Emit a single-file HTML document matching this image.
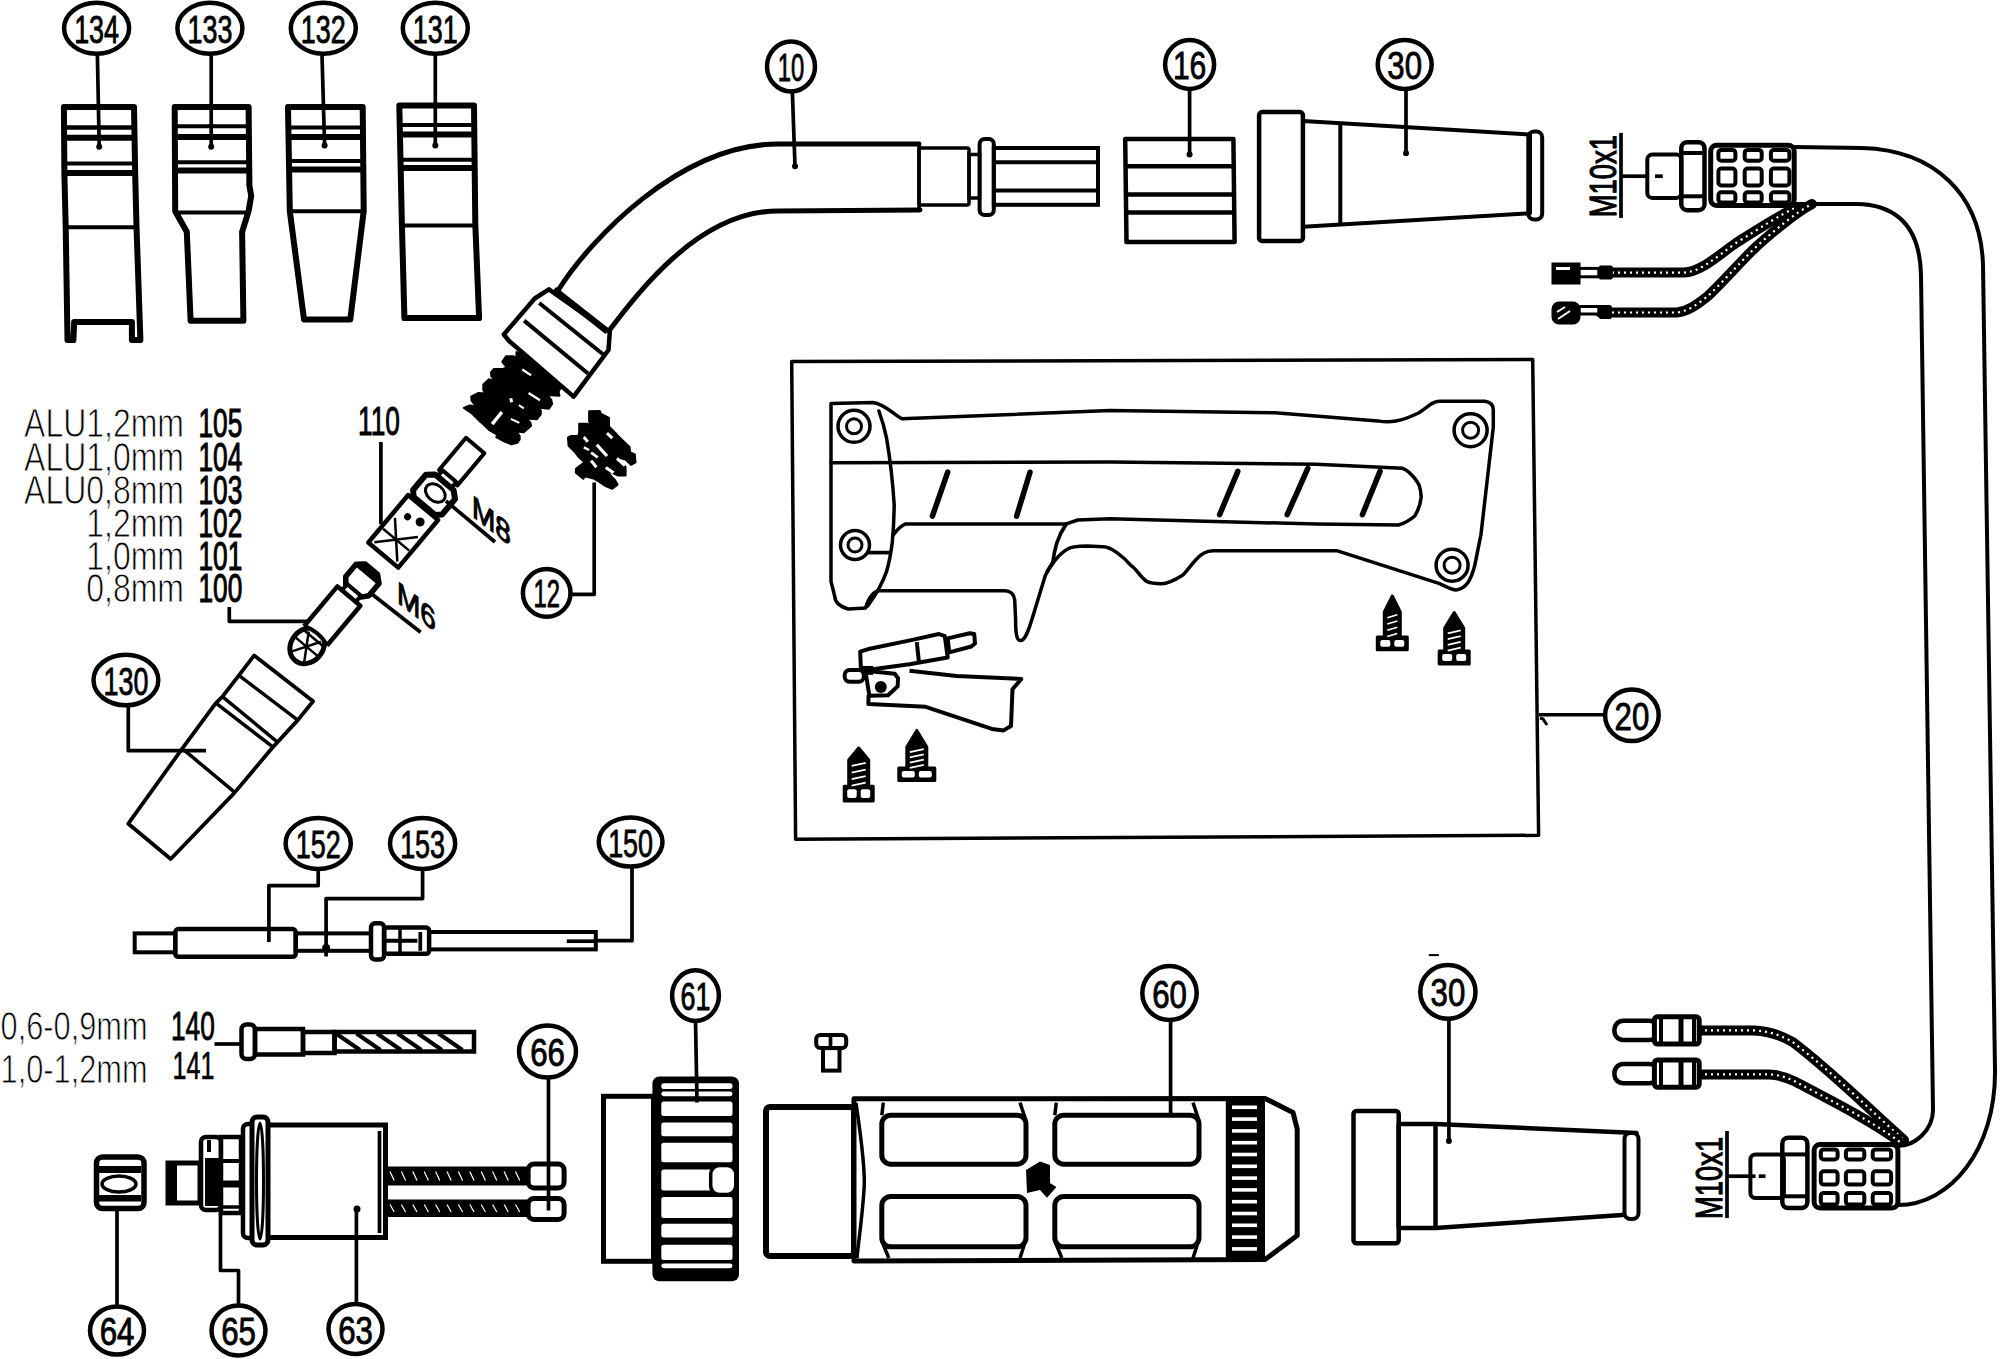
<!DOCTYPE html>
<html><head><meta charset="utf-8"><style>
html,body{margin:0;padding:0;background:#fff;}
svg{display:block;}
text{font-family:"Liberation Sans",sans-serif;fill:#000;}
</style></head><body>
<svg width="2000" height="1359" viewBox="0 0 2000 1359">
<rect width="2000" height="1359" fill="#fff"/>
<polygon points="63.9,106.9 134.0,106.9 135.2,175.2 136.5,226.7 140.4,340.0 131.9,340.0 131.9,322.0 74.2,322.0 73.4,340.0 67.5,340.0 65.7,226.7 64.4,175.2" fill="none" stroke="#000" stroke-width="6" stroke-linejoin="round" />
<polyline points="63.9,127.5 134.0,127.5" fill="none" stroke="#000" stroke-width="4.5" stroke-linejoin="round" />
<polyline points="64.4,137.8 134.5,137.8" fill="none" stroke="#000" stroke-width="6" stroke-linejoin="round" />
<polyline points="64.4,163.6 135.2,163.6" fill="none" stroke="#000" stroke-width="4" stroke-linejoin="round" />
<polyline points="64.4,173.1 135.2,173.1" fill="none" stroke="#000" stroke-width="6" stroke-linejoin="round" />
<polyline points="65.7,227.2 136.5,227.2" fill="none" stroke="#000" stroke-width="4" stroke-linejoin="round" />
<polygon points="174.7,106.9 248.6,106.9 249.4,185.5 251.2,195.8 248.6,211.2 242.1,231.8 243.4,320.7 190.6,320.7 186.8,231.8 175.2,211.2 174.7,106.9" fill="none" stroke="#000" stroke-width="6" stroke-linejoin="round" />
<polyline points="173.9,126.2 248.6,126.2" fill="none" stroke="#000" stroke-width="4" stroke-linejoin="round" />
<polyline points="173.9,137.0 248.8,137.0" fill="none" stroke="#000" stroke-width="6" stroke-linejoin="round" />
<polyline points="174.4,162.3 249.1,162.3" fill="none" stroke="#000" stroke-width="4" stroke-linejoin="round" />
<polyline points="174.4,170.5 249.4,170.5" fill="none" stroke="#000" stroke-width="6" stroke-linejoin="round" />
<polyline points="175.2,212.5 248.6,212.5" fill="none" stroke="#000" stroke-width="4" stroke-linejoin="round" />
<polygon points="288.0,106.9 362.7,106.9 363.7,211.2 350.3,319.4 304.0,319.4 289.8,211.2" fill="none" stroke="#000" stroke-width="6" stroke-linejoin="round" />
<polyline points="288.5,127.5 362.7,127.5" fill="none" stroke="#000" stroke-width="4" stroke-linejoin="round" />
<polyline points="288.5,137.0 362.7,137.0" fill="none" stroke="#000" stroke-width="6" stroke-linejoin="round" />
<polyline points="289.0,161.0 363.2,161.0" fill="none" stroke="#000" stroke-width="4" stroke-linejoin="round" />
<polyline points="289.0,169.5 363.2,169.5" fill="none" stroke="#000" stroke-width="6" stroke-linejoin="round" />
<polyline points="289.8,211.2 363.7,211.2" fill="none" stroke="#000" stroke-width="4" stroke-linejoin="round" />
<polygon points="399.3,105.6 474.0,105.6 475.3,224.1 479.1,318.1 404.4,318.1 401.9,224.1" fill="none" stroke="#000" stroke-width="6" stroke-linejoin="round" />
<polyline points="399.8,124.9 474.0,124.9" fill="none" stroke="#000" stroke-width="4" stroke-linejoin="round" />
<polyline points="399.8,134.5 474.0,134.5" fill="none" stroke="#000" stroke-width="6" stroke-linejoin="round" />
<polyline points="400.6,159.7 474.5,159.7" fill="none" stroke="#000" stroke-width="4" stroke-linejoin="round" />
<polyline points="400.6,168.0 474.5,168.0" fill="none" stroke="#000" stroke-width="6" stroke-linejoin="round" />
<polyline points="401.9,225.4 475.3,225.4" fill="none" stroke="#000" stroke-width="4" stroke-linejoin="round" />
<polyline points="97.4,55.4 99.2,146.8" fill="none" stroke="#000" stroke-width="3.7" stroke-linejoin="round" />
<circle cx="99.2" cy="146.8" r="3"/>
<polyline points="211.2,55.4 211.2,146.8" fill="none" stroke="#000" stroke-width="3.7" stroke-linejoin="round" />
<circle cx="211.2" cy="146.8" r="3"/>
<polyline points="322.0,55.4 324.6,145.5" fill="none" stroke="#000" stroke-width="3.7" stroke-linejoin="round" />
<circle cx="324.6" cy="145.5" r="3"/>
<polyline points="435.3,54.1 435.3,145.5" fill="none" stroke="#000" stroke-width="3.7" stroke-linejoin="round" />
<circle cx="435.3" cy="145.5" r="3"/>
<ellipse cx="96.6" cy="28.3" rx="32.5" ry="25.5" fill="#fff" stroke="#000" stroke-width="4.5"/>
<text transform="translate(96.6,42.8) scale(0.69,1)" font-size="39" text-anchor="middle" stroke="#000" stroke-width="0.9">134</text>
<ellipse cx="209.9" cy="28.3" rx="32.5" ry="25.5" fill="#fff" stroke="#000" stroke-width="4.5"/>
<text transform="translate(209.9,42.8) scale(0.69,1)" font-size="39" text-anchor="middle" stroke="#000" stroke-width="0.9">133</text>
<ellipse cx="323.3" cy="28.3" rx="32.5" ry="25.5" fill="#fff" stroke="#000" stroke-width="4.5"/>
<text transform="translate(323.3,42.8) scale(0.69,1)" font-size="39" text-anchor="middle" stroke="#000" stroke-width="0.9">132</text>
<ellipse cx="435.3" cy="28.3" rx="32.5" ry="25.5" fill="#fff" stroke="#000" stroke-width="4.5"/>
<text transform="translate(435.3,42.8) scale(0.69,1)" font-size="39" text-anchor="middle" stroke="#000" stroke-width="0.9">131</text>
<path d="M 559.0,289.0 C 590.0,240.0 680.0,144.0 778.0,144.0 L 919.0,144.0" fill="none" stroke="#000" stroke-width="5" stroke-linejoin="round" stroke-linecap="round"/>
<path d="M 608.0,332.0 C 640.0,290.0 700.0,211.0 778.0,211.0 L 920.0,210.0" fill="none" stroke="#000" stroke-width="5" stroke-linejoin="round" stroke-linecap="round"/>
<polyline points="919.0,144.0 919.0,210.0" fill="none" stroke="#000" stroke-width="3.5" stroke-linejoin="round" />
<rect x="919.0" y="148.0" width="50.0" height="57.0" rx="2" fill="none" stroke="#000" stroke-width="3.5"/>
<rect x="969.0" y="154.5" width="10.6" height="43.5" rx="0" fill="none" stroke="#000" stroke-width="3.5"/>
<rect x="979.6" y="139.0" width="14.2" height="76.0" rx="5" fill="none" stroke="#000" stroke-width="4"/>
<rect x="993.8" y="148.0" width="104.2" height="56.8" rx="0" fill="none" stroke="#000" stroke-width="4"/>
<polyline points="994.0,162.3 1098.0,162.3" fill="none" stroke="#000" stroke-width="4" stroke-linejoin="round" />
<polyline points="994.0,190.6 1098.0,190.6" fill="none" stroke="#000" stroke-width="4" stroke-linejoin="round" />
<polyline points="792.4,92.7 795.0,166.2" fill="none" stroke="#000" stroke-width="3.7" stroke-linejoin="round" />
<circle cx="795.0" cy="166.2" r="3"/>
<ellipse cx="791.0" cy="66.5" rx="24.0" ry="25.0" fill="#fff" stroke="#000" stroke-width="4.5"/>
<text transform="translate(791.0,81.0) scale(0.61,1)" font-size="39" text-anchor="middle" stroke="#000" stroke-width="0.9">10</text>
<polygon points="1125.2,139.1 1233.4,139.1 1234.6,242.1 1126.5,242.1" fill="none" stroke="#000" stroke-width="4.5" stroke-linejoin="round" />
<polyline points="1125.7,166.2 1233.4,166.2" fill="none" stroke="#000" stroke-width="4.5" stroke-linejoin="round" />
<polyline points="1125.7,194.5 1233.4,194.5" fill="none" stroke="#000" stroke-width="4.5" stroke-linejoin="round" />
<polyline points="1125.7,212.5 1233.9,212.5" fill="none" stroke="#000" stroke-width="4.5" stroke-linejoin="round" />
<polyline points="1189.6,88.9 1189.6,154.6" fill="none" stroke="#000" stroke-width="3.7" stroke-linejoin="round" />
<circle cx="1189.6" cy="154.6" r="3"/>
<ellipse cx="1189.6" cy="64.4" rx="24.5" ry="24.5" fill="#fff" stroke="#000" stroke-width="4.5"/>
<text transform="translate(1189.6,78.9) scale(0.77,1)" font-size="39" text-anchor="middle" stroke="#000" stroke-width="0.9">16</text>
<rect x="1259.1" y="112.1" width="43.8" height="128.8" rx="3" fill="none" stroke="#000" stroke-width="4.5"/>
<polygon points="1303.0,121.0 1530.0,134.5 1530.0,213.3 1303.0,226.7" fill="none" stroke="#000" stroke-width="4" stroke-linejoin="round" />
<polyline points="1340.3,122.0 1340.3,226.0" fill="none" stroke="#000" stroke-width="4" stroke-linejoin="round" />
<rect x="1528.3" y="131.4" width="13.9" height="88.1" rx="6" fill="none" stroke="#000" stroke-width="4"/>
<polyline points="1406.0,88.9 1406.0,153.3" fill="none" stroke="#000" stroke-width="3.7" stroke-linejoin="round" />
<circle cx="1406.0" cy="153.3" r="3"/>
<ellipse cx="1404.7" cy="64.4" rx="27.0" ry="24.5" fill="#fff" stroke="#000" stroke-width="4.5"/>
<text transform="translate(1404.7,78.9) scale(0.8,1)" font-size="39" text-anchor="middle" stroke="#000" stroke-width="0.9">30</text>
<text transform="translate(1616.1,176.2) rotate(-90) scale(0.74,1)" font-size="37" text-anchor="middle" stroke="#000" stroke-width="1.2">M10x1</text>
<polyline points="1621.0,132.9 1621.0,217.9" fill="none" stroke="#000" stroke-width="3.7" stroke-linejoin="round" />
<polyline points="1621.0,176.2 1647.3,176.2" fill="none" stroke="#000" stroke-width="3.7" stroke-linejoin="round" />
<rect x="1647.3" y="154.6" width="34.0" height="43.3" rx="5" fill="none" stroke="#000" stroke-width="4"/>
<polyline points="1655.0,176.2 1662.8,176.2" fill="none" stroke="#000" stroke-width="3.7" stroke-linejoin="round" />
<rect x="1681.3" y="142.2" width="23.2" height="68.0" rx="6" fill="none" stroke="#000" stroke-width="4.5"/>
<polyline points="1681.9,153.0 1703.9,153.0" fill="none" stroke="#000" stroke-width="4" stroke-linejoin="round" />
<polyline points="1681.9,196.3 1703.9,196.3" fill="none" stroke="#000" stroke-width="4" stroke-linejoin="round" />
<rect x="1710.7" y="145.3" width="83.5" height="60.3" rx="6" fill="none" stroke="#000" stroke-width="5"/>
<rect x="1718.4" y="149.9" width="17.0" height="10.8" rx="3" fill="none" stroke="#000" stroke-width="4"/>
<rect x="1718.4" y="168.5" width="17.0" height="17.0" rx="3" fill="none" stroke="#000" stroke-width="4"/>
<rect x="1718.4" y="192.3" width="17.0" height="10.2" rx="3" fill="none" stroke="#000" stroke-width="4"/>
<rect x="1744.7" y="149.9" width="17.0" height="10.8" rx="3" fill="none" stroke="#000" stroke-width="4"/>
<rect x="1744.7" y="168.5" width="17.0" height="17.0" rx="3" fill="none" stroke="#000" stroke-width="4"/>
<rect x="1744.7" y="192.3" width="17.0" height="10.2" rx="3" fill="none" stroke="#000" stroke-width="4"/>
<rect x="1770.9" y="149.9" width="18.5" height="10.8" rx="3" fill="none" stroke="#000" stroke-width="4"/>
<rect x="1770.9" y="168.5" width="18.5" height="17.0" rx="3" fill="none" stroke="#000" stroke-width="4"/>
<rect x="1770.9" y="192.3" width="18.5" height="10.2" rx="3" fill="none" stroke="#000" stroke-width="4"/>
<path d="M 1794.0,147.0 L 1862.0,148.0 C 1935.0,150.0 1981.0,195.0 1983.0,265.0 L 1995.0,1070.0 C 1996.0,1150.0 1950.0,1205.0 1898.0,1205.0" fill="none" stroke="#000" stroke-width="4" stroke-linejoin="round" stroke-linecap="round"/>
<path d="M 1794.0,204.0 L 1857.0,204.0 C 1900.0,205.0 1920.0,230.0 1921.0,275.0 L 1933.0,1110.0 C 1933.0,1130.0 1915.0,1146.0 1898.0,1146.0" fill="none" stroke="#000" stroke-width="4" stroke-linejoin="round" stroke-linecap="round"/>
<path d="M 1600.0,272.6 L 1684.0,272.6 C 1700.0,272.0 1715.0,258.0 1736.0,243.0 C 1760.0,228.0 1780.0,215.0 1795.0,208.0" fill="none" stroke="#000" stroke-width="10" stroke-linejoin="round" stroke-linecap="round"/>
<path d="M 1600 272.6 L 1684 272.6 C 1700 272 1715 258 1736 243 C 1760 228 1780 215 1795 208" fill="none" stroke="#fff" stroke-width="2.2" stroke-dasharray="2 4"/>
<path d="M 1600.0,312.5 L 1677.0,312.5 C 1690.0,311.0 1700.0,302.0 1708.0,296.0 C 1725.0,280.0 1740.0,262.0 1757.0,246.0 C 1775.0,230.0 1795.0,213.0 1812.0,204.0" fill="none" stroke="#000" stroke-width="10" stroke-linejoin="round" stroke-linecap="round"/>
<path d="M 1600 312.5 L 1677 312.5 C 1690 311 1700 302 1708 296 C 1725 280 1740 262 1757 246 C 1775 230 1795 213 1812 204" fill="none" stroke="#fff" stroke-width="2.2" stroke-dasharray="2 4"/>
<rect x="1553" y="264" width="26" height="19" fill="#000" stroke="#000" stroke-width="3"/>
<rect x="1556" y="267" width="14" height="3" fill="#fff"/>
<rect x="1579.2" y="268.4" width="19.6" height="8.4" fill="#fff" stroke="#000" stroke-width="3"/>
<rect x="1598.8" y="265.6" width="14" height="14" rx="2" fill="#000"/>
<rect x="1553" y="303" width="26" height="20" rx="6" fill="#000" stroke="#000" stroke-width="3"/>
<path d="M 1557 312 L 1565 307 M 1558 319 L 1570 311" stroke="#fff" stroke-width="2"/>
<rect x="1579.2" y="306.5" width="19.6" height="7.5" fill="#fff" stroke="#000" stroke-width="3"/>
<rect x="1598.8" y="305" width="13" height="14" rx="2" fill="#000"/>
<polygon points="791.7,361.5 1532.7,359.5 1538.6,835.3 795.6,839.2" fill="none" stroke="#000" stroke-width="3.5" stroke-linejoin="round" />
<polyline points="1539.0,714.8 1605.0,714.8" fill="none" stroke="#000" stroke-width="3.4" stroke-linejoin="round" />
<path d="M 1540 718 L 1543 719 L 1547 725" fill="none" stroke="#000" stroke-width="3"/>
<ellipse cx="1631.9" cy="715.3" rx="26.8" ry="25.8" fill="#fff" stroke="#000" stroke-width="4.5"/>
<text transform="translate(1631.9,729.8) scale(0.8,1)" font-size="39" text-anchor="middle" stroke="#000" stroke-width="0.9">20</text>
<path d="M 831.0,403.4 L 873.0,402.4 C 885.0,404.0 893.0,414.0 901.8,418.7 L 1110.0,410.6 L 1274.9,412.7 L 1377.9,420.9 C 1390.0,423.0 1400.0,422.0 1419.0,412.7 C 1428.0,407.0 1432.0,401.3 1439.7,401.3 L 1485.0,401.3 C 1490.0,402.0 1493.3,405.0 1493.3,410.0 L 1493.3,427.1 L 1481.0,534.3 L 1474.8,565.2 C 1471.0,580.0 1466.0,589.0 1456.2,589.9 C 1452.0,590.0 1447.0,587.0 1439.7,583.7 L 1336.7,550.7 L 1213.0,550.7 C 1205.0,551.0 1200.0,555.0 1196.6,559.0 C 1190.0,566.0 1185.0,574.0 1182.1,575.5 C 1175.0,580.0 1168.0,583.7 1161.5,583.7 C 1155.0,583.7 1150.0,583.0 1147.1,581.7 C 1140.0,577.0 1136.0,568.0 1130.6,565.2 C 1124.0,557.0 1110.0,546.0 1102.7,546.8 L 1087.4,545.9 C 1080.0,546.0 1070.0,547.0 1068.2,548.8 C 1060.0,553.0 1050.0,565.0 1045.3,575.5 L 1031.9,619.5 C 1028.0,632.0 1025.0,640.6 1020.4,640.6 C 1016.0,640.6 1015.6,630.0 1015.6,619.5 L 1014.7,600.0 C 1014.0,594.0 1010.0,590.8 1005.1,590.8 L 878.9,590.8 C 872.0,592.0 868.0,600.0 865.5,608.0 L 848.3,609.0 C 840.0,607.0 834.9,602.0 834.9,597.0 L 831.0,581.3 Z" fill="none" stroke="#000" stroke-width="3.5" stroke-linejoin="round" stroke-linecap="round"/>
<path d="M 878.9,411.0 C 884.0,425.0 886.5,437.8 886.5,437.8 C 892.0,470.0 894.2,504.8 894.2,504.8 C 894.0,525.0 892.2,543.0 892.2,543.0 C 890.0,560.0 886.5,571.7 886.5,571.7 C 880.0,590.0 872.0,600.0 867.4,606.1" fill="none" stroke="#000" stroke-width="3.5" stroke-linejoin="round" stroke-linecap="round"/>
<path d="M 831.0,462.7 L 1110.0,462.1 L 1316.0,464.2 L 1402.6,468.3 C 1412.0,472.0 1419.0,484.8 1419.0,484.8 C 1421.0,490.0 1421.2,497.2 1421.2,497.2 C 1420.0,507.0 1415.0,515.7 1415.0,515.7 C 1408.0,522.0 1398.5,525.0 1398.5,525.0 L 1316.0,524.0 L 1110.0,518.8 L 1077.8,520.0 L 1066.3,523.9 L 905.6,523.9 C 900.0,526.0 896.0,531.5 893.0,535.0" fill="none" stroke="#000" stroke-width="3.5" stroke-linejoin="round" stroke-linecap="round"/>
<path d="M 1066.3,523.9 C 1060.0,533.0 1056.8,543.0 1056.8,543.0 C 1054.0,552.0 1052.9,562.2 1052.9,562.2 L 1047.2,571.7" fill="none" stroke="#000" stroke-width="3.7" stroke-linejoin="round" stroke-linecap="round"/>
<polyline points="867.4,552.6 890.3,552.6" fill="none" stroke="#000" stroke-width="3.7" stroke-linejoin="round" />
<circle cx="854" cy="426.3" r="16" fill="#fff" stroke="#000" stroke-width="3.5"/>
<circle cx="854" cy="426.3" r="7.5" fill="none" stroke="#000" stroke-width="3"/>
<circle cx="855" cy="545" r="14.5" fill="#fff" stroke="#000" stroke-width="3.5"/>
<circle cx="855" cy="545" r="7" fill="none" stroke="#000" stroke-width="3"/>
<circle cx="1470.6" cy="430.2" r="16.5" fill="#fff" stroke="#000" stroke-width="3.5"/>
<circle cx="1470.6" cy="430.2" r="8" fill="none" stroke="#000" stroke-width="3"/>
<circle cx="1452.1" cy="565.2" r="16" fill="#fff" stroke="#000" stroke-width="3.5"/>
<circle cx="1452.1" cy="565.2" r="8" fill="none" stroke="#000" stroke-width="3"/>
<line x1="947.7" y1="472.2" x2="932.4" y2="516.2" stroke="#000" stroke-width="5.5" stroke-linecap="round"/>
<line x1="1030" y1="472.2" x2="1016.6" y2="516.2" stroke="#000" stroke-width="5.5" stroke-linecap="round"/>
<line x1="1237.8" y1="471.4" x2="1219.6" y2="514.7" stroke="#000" stroke-width="5.5" stroke-linecap="round"/>
<line x1="1307.8" y1="468.3" x2="1287.2" y2="514.7" stroke="#000" stroke-width="5.5" stroke-linecap="round"/>
<line x1="1380" y1="471.4" x2="1362.4" y2="514.7" stroke="#000" stroke-width="5.5" stroke-linecap="round"/>
<polygon points="860.2,651.6 869.7,648.7 912.4,639.9 938.9,634.0 944.8,636.2 947.7,657.5 909.5,664.2 872.7,669.3 860.9,669.3" fill="none" stroke="#000" stroke-width="4" stroke-linejoin="round" />
<polyline points="916.8,642.1 919.0,662.7" fill="none" stroke="#000" stroke-width="4" stroke-linejoin="round" />
<polygon points="947.7,638.4 969.8,633.2 974.2,634.0 975.0,643.5 971.3,646.5 949.2,652.4" fill="none" stroke="#000" stroke-width="4" stroke-linejoin="round" />
<rect x="844.7" y="670.0" width="19.1" height="11.8" rx="5" fill="none" stroke="#000" stroke-width="4"/>
<rect x="863.6" y="667.8" width="7.7" height="5.2" rx="0" fill="none" stroke="#000" stroke-width="3.7"/>
<polygon points="865.3,670.8 894.8,673.7 898.0,678.1 897.7,686.2 888.1,695.3 869.4,695.8" fill="none" stroke="#000" stroke-width="4" stroke-linejoin="round" />
<circle cx="880.8" cy="687.0" r="6" fill="#000"/>
<polyline points="909.5,670.8 956.6,675.9 1021.3,678.9 1012.5,689.2 1011.0,726.0 1003.7,730.4 991.9,728.9 925.7,706.8 868.3,703.9 868.6,695.1" fill="none" stroke="#000" stroke-width="4" stroke-linejoin="round" />
<path d="M 1392.3 596 L 1400.3 612 L 1400.3 637 L 1407.3 637 L 1407.3 649.7 L 1377.3 649.7 L 1377.3 637 L 1384.3 637 L 1384.3 612 Z" fill="#000" stroke="#000" stroke-width="3" stroke-linejoin="round"/>
<line x1="1387.3" y1="617.75" x2="1397.3" y2="614.75" stroke="#fff" stroke-width="1.8"/>
<line x1="1387.3" y1="624.0" x2="1397.3" y2="621.0" stroke="#fff" stroke-width="1.8"/>
<line x1="1387.3" y1="630.25" x2="1397.3" y2="627.25" stroke="#fff" stroke-width="1.8"/>
<line x1="1387.3" y1="636.5" x2="1397.3" y2="633.5" stroke="#fff" stroke-width="1.8"/>
<rect x="1380.3" y="640" width="10.0" height="6.7000000000000455" rx="2" fill="#fff"/>
<rect x="1394.3" y="640" width="10.0" height="6.7000000000000455" rx="2" fill="#fff"/>
<path d="M 1454.2 612.6 L 1463.7 628 L 1463.7 651 L 1469.2 651 L 1469.2 664 L 1439.2 664 L 1439.2 651 L 1444.7 651 L 1444.7 628 Z" fill="#000" stroke="#000" stroke-width="3" stroke-linejoin="round"/>
<line x1="1447.7" y1="633.45" x2="1460.7" y2="630.45" stroke="#fff" stroke-width="1.8"/>
<line x1="1447.7" y1="639.2" x2="1460.7" y2="636.2" stroke="#fff" stroke-width="1.8"/>
<line x1="1447.7" y1="644.95" x2="1460.7" y2="641.95" stroke="#fff" stroke-width="1.8"/>
<line x1="1447.7" y1="650.7" x2="1460.7" y2="647.7" stroke="#fff" stroke-width="1.8"/>
<rect x="1442.2" y="654" width="10.0" height="7" rx="2" fill="#fff"/>
<rect x="1456.2" y="654" width="10.0" height="7" rx="2" fill="#fff"/>
<path d="M 858.7 748 L 868.7 760 L 868.7 786.3 L 873.2 786.3 L 873.2 801 L 844.2 801 L 844.2 786.3 L 848.7 786.3 L 848.7 760 Z" fill="#000" stroke="#000" stroke-width="3" stroke-linejoin="round"/>
<line x1="851.7" y1="765.9449999999999" x2="865.7" y2="762.9449999999999" stroke="#fff" stroke-width="1.8"/>
<line x1="851.7" y1="772.52" x2="865.7" y2="769.52" stroke="#fff" stroke-width="1.8"/>
<line x1="851.7" y1="779.095" x2="865.7" y2="776.095" stroke="#fff" stroke-width="1.8"/>
<line x1="851.7" y1="785.67" x2="865.7" y2="782.67" stroke="#fff" stroke-width="1.8"/>
<rect x="847.2" y="789.3" width="9.5" height="8.700000000000045" rx="2" fill="#fff"/>
<rect x="860.7" y="789.3" width="9.5" height="8.700000000000045" rx="2" fill="#fff"/>
<path d="M 916.8 730.4 L 926.8 747 L 926.8 768 L 934.8 768 L 934.8 780.4 L 898.8 780.4 L 898.8 768 L 906.8 768 L 906.8 747 Z" fill="#000" stroke="#000" stroke-width="3" stroke-linejoin="round"/>
<line x1="909.8" y1="752.15" x2="923.8" y2="749.15" stroke="#fff" stroke-width="1.8"/>
<line x1="909.8" y1="757.4" x2="923.8" y2="754.4" stroke="#fff" stroke-width="1.8"/>
<line x1="909.8" y1="762.65" x2="923.8" y2="759.65" stroke="#fff" stroke-width="1.8"/>
<line x1="909.8" y1="767.9" x2="923.8" y2="764.9" stroke="#fff" stroke-width="1.8"/>
<rect x="901.8" y="771" width="13.0" height="6.399999999999977" rx="2" fill="#fff"/>
<rect x="918.8" y="771" width="13.0" height="6.399999999999977" rx="2" fill="#fff"/>
<text transform="translate(184.0,436.6) scale(0.78,1)" font-size="41" text-anchor="end" font-weight="normal" stroke="#fff" stroke-width="0.9">ALU1,2mm</text>
<text transform="translate(198.5,436.6) scale(0.64,1)" font-size="41" text-anchor="start" font-weight="normal" stroke="#000" stroke-width="1.1">105</text>
<text transform="translate(184.0,470.7) scale(0.78,1)" font-size="41" text-anchor="end" font-weight="normal" stroke="#fff" stroke-width="0.9">ALU1,0mm</text>
<text transform="translate(198.5,470.7) scale(0.64,1)" font-size="41" text-anchor="start" font-weight="normal" stroke="#000" stroke-width="1.1">104</text>
<text transform="translate(184.0,504.0) scale(0.78,1)" font-size="41" text-anchor="end" font-weight="normal" stroke="#fff" stroke-width="0.9">ALU0,8mm</text>
<text transform="translate(198.5,504.0) scale(0.64,1)" font-size="41" text-anchor="start" font-weight="normal" stroke="#000" stroke-width="1.1">103</text>
<text transform="translate(184.0,536.8) scale(0.78,1)" font-size="41" text-anchor="end" font-weight="normal" stroke="#fff" stroke-width="0.9">1,2mm</text>
<text transform="translate(198.5,536.8) scale(0.64,1)" font-size="41" text-anchor="start" font-weight="normal" stroke="#000" stroke-width="1.1">102</text>
<text transform="translate(184.0,569.8) scale(0.78,1)" font-size="41" text-anchor="end" font-weight="normal" stroke="#fff" stroke-width="0.9">1,0mm</text>
<text transform="translate(198.5,569.8) scale(0.64,1)" font-size="41" text-anchor="start" font-weight="normal" stroke="#000" stroke-width="1.1">101</text>
<text transform="translate(184.0,601.5) scale(0.78,1)" font-size="41" text-anchor="end" font-weight="normal" stroke="#fff" stroke-width="0.9">0,8mm</text>
<text transform="translate(198.5,601.5) scale(0.64,1)" font-size="41" text-anchor="start" font-weight="normal" stroke="#000" stroke-width="1.1">100</text>
<text transform="translate(358.0,434.6) scale(0.64,1)" font-size="41" text-anchor="start" font-weight="normal" stroke="#000" stroke-width="1.0">110</text>
<text transform="translate(147.5,1039.5) scale(0.75,1)" font-size="41" text-anchor="end" font-weight="normal" stroke="#fff" stroke-width="0.9">0,6-0,9mm</text>
<text transform="translate(171.0,1039.5) scale(0.64,1)" font-size="41" text-anchor="start" font-weight="normal" stroke="#000" stroke-width="0.9">140</text>
<text transform="translate(147.5,1083.0) scale(0.75,1)" font-size="41" text-anchor="end" font-weight="normal" stroke="#fff" stroke-width="0.9">1,0-1,2mm</text>
<text transform="translate(172.5,1079.0) scale(0.66,1)" font-size="38" text-anchor="start" font-weight="normal" stroke="#000" stroke-width="0.6">141</text>
<polygon points="548.9,289.3 609.8,332.1 608.5,350.0 573.6,396.6 509.1,341.0 503.8,334.5 534.7,298.5" fill="#fff" stroke="#000" stroke-width="4.5" stroke-linejoin="round" />
<polyline points="554.0,289.5 607.5,331.5" fill="none" stroke="#000" stroke-width="6.5" stroke-linejoin="round" />
<polyline points="539.2,303.0 603.0,354.2" fill="none" stroke="#000" stroke-width="4" stroke-linejoin="round" />
<polyline points="524.1,320.6 588.0,373.5" fill="none" stroke="#000" stroke-width="4" stroke-linejoin="round" />
<polygon points="516.5,352.1 516.5,357.8 513.3,356.2 506.0,356.2 502.3,361.8 506.8,367.5 503.6,368.7 493.8,369.1 491.0,372.4 491.4,376.4 495.5,381.3 489.0,379.2 483.3,384.5 483.3,390.2 485.7,393.4 478.5,393.0 471.2,396.6 471.6,400.7 476.0,406.4 469.6,405.5 463.9,408.0 471.2,412.8 479.3,420.9 483.3,424.2 489.0,429.8 497.1,434.7 496.3,437.1 503.6,441.1 511.6,444.4 517.3,442.8 519.7,439.5 519.7,436.3 516.5,431.4 523.8,432.2 531.1,425.8 530.3,422.5 526.2,418.5 536.7,419.3 540.8,414.4 540.8,410.4 535.9,407.2 548.9,408.8 552.1,403.9 551.3,399.9 547.2,395.0 559.4,395.8 558.6,391.8 560.2,388.6 562.6,387.7 527.8,356.2" fill="#000" stroke="#000" stroke-width="2" stroke-linejoin="round" />
<polyline points="522.2,369.5 531.1,375.2" fill="none" stroke="#fff" stroke-width="2.2" stroke-linejoin="round" />
<polyline points="528.6,393.0 540.0,400.3" fill="none" stroke="#fff" stroke-width="2.2" stroke-linejoin="round" />
<polyline points="492.2,424.2 501.9,412.0" fill="none" stroke="#fff" stroke-width="3.5" stroke-linejoin="round" />
<polyline points="510.8,418.9 519.3,422.9" fill="none" stroke="#fff" stroke-width="2" stroke-linejoin="round" />
<polyline points="510.8,398.3 511.6,402.3" fill="none" stroke="#fff" stroke-width="3" stroke-linejoin="round" />
<polyline points="518.9,405.1 523.8,408.4" fill="none" stroke="#fff" stroke-width="2" stroke-linejoin="round" />
<polygon points="589.1,411.3 599.7,410.9 601.1,413.9 609.0,417.9 609.0,426.5 615.6,433.1 618.3,436.1 629.5,447.0 630.2,452.3 634.8,454.3 635.5,462.3 630.9,464.9 625.6,459.6 616.3,457.0 625.6,466.9 625.6,475.5 618.3,475.5 605.7,470.2 615.0,480.1 617.6,484.8 612.3,488.7 605.7,486.1 599.7,482.1 594.4,478.8 585.2,476.2 583.2,478.8 575.9,472.8 575.9,468.9 584.5,462.3 577.9,456.3 575.2,452.3 568.6,445.7 567.9,437.7 570.6,436.1 578.5,436.1 579.2,431.1 579.2,423.8 587.8,423.8 592.5,428.5 597.1,429.1 591.8,426.5 589.1,421.2" fill="#000" stroke="#000" stroke-width="2" stroke-linejoin="round" />
<polyline points="607.0,433.1 612.3,438.1" fill="none" stroke="#fff" stroke-width="3" stroke-linejoin="round" />
<polyline points="596.8,444.7 607.0,456.0" fill="none" stroke="#fff" stroke-width="3.2" stroke-linejoin="round" />
<polyline points="583.8,447.4 589.1,450.0" fill="none" stroke="#fff" stroke-width="2.5" stroke-linejoin="round" />
<polyline points="591.1,452.6 597.7,457.3" fill="none" stroke="#fff" stroke-width="2.8" stroke-linejoin="round" />
<polyline points="591.1,460.6 596.4,467.2" fill="none" stroke="#fff" stroke-width="3" stroke-linejoin="round" />
<polyline points="617.0,458.3 624.9,465.6" fill="none" stroke="#fff" stroke-width="3" stroke-linejoin="round" />
<polyline points="605.7,467.5 613.6,472.8" fill="none" stroke="#fff" stroke-width="3" stroke-linejoin="round" />
<polyline points="583.8,437.1 587.8,441.7" fill="none" stroke="#fff" stroke-width="3" stroke-linejoin="round" />
<polyline points="594.2,482.5 594.2,594.3 570.4,594.3" fill="none" stroke="#000" stroke-width="3.7" stroke-linejoin="round" />
<ellipse cx="546.7" cy="592.9" rx="23.8" ry="23.8" fill="#fff" stroke="#000" stroke-width="4.5"/>
<text transform="translate(546.7,607.4) scale(0.61,1)" font-size="39" text-anchor="middle" stroke="#000" stroke-width="0.9">12</text>
<g transform="translate(403.2,531.3) rotate(-50)" fill="#fff" stroke="#000" stroke-linejoin="round">
<rect x="70" y="-12" width="42" height="24" stroke-width="4"/>
<rect x="60" y="-9" width="12" height="18" stroke-width="4"/>
<path d="M 33 -14 L 38 -19 L 58 -19 L 64 -12 L 64 12 L 58 19 L 38 19 L 33 14 Z" stroke-width="6"/>
<ellipse cx="50" cy="0" rx="8" ry="11" stroke-width="3"/>
<rect x="-31" y="-19.5" width="62" height="39" stroke-width="4.5"/>
<path d="M -27 -15 L 5 15 M -27 15 L 5 -15 M -11 -17 L -11 17" stroke-width="2.5" fill="none"/>
<circle cx="14" cy="-6" r="3.5" fill="#000" stroke="none"/>
<circle cx="18" cy="7" r="4.5" fill="#000" stroke="none"/>
</g>
<polyline points="380.9,442.0 380.9,524.2" fill="none" stroke="#000" stroke-width="3.7" stroke-linejoin="round" />
<polyline points="446.0,501.0 495.0,542.0" fill="none" stroke="#000" stroke-width="3.7" stroke-linejoin="round" />
<text transform="translate(472,516) skewY(38) scale(0.9,1)" font-size="31" text-anchor="start" stroke="#000" stroke-width="1.1">M8</text>
<g transform="translate(336.7,610.6) rotate(-50)" fill="#fff" stroke="#000" stroke-linejoin="round">
<path d="M 26 -10 L 32 -15 L 48 -15 L 54 -8 L 54 8 L 48 15 L 32 15 L 26 10 Z" stroke-width="5.5" fill="#fff"/>
<path d="M 48 -15 L 54 -8 L 54 8 L 48 15 Z" stroke-width="4" fill="#000"/>
<rect x="18" y="-9" width="9" height="18" stroke-width="4"/>
<ellipse cx="-46" cy="0" rx="19" ry="16" stroke-width="5"/>
<path d="M -60 -8 L -34 8 M -60 8 L -34 -8 M -47 -14 L -47 14 M -36 -14 L -36 14" stroke-width="2.5" fill="none"/>
<path d="M -33 -15 L 19 -15 L 19 15 L -33 15" stroke-width="4.5"/>
<path d="M -33 -15 C -29 -6 -29 6 -33 15" stroke-width="4" fill="none"/>
</g>
<polyline points="229.3,607.0 229.3,621.3 309.0,621.3" fill="none" stroke="#000" stroke-width="3.7" stroke-linejoin="round" />
<polyline points="371.8,594.0 420.6,632.2" fill="none" stroke="#000" stroke-width="3.7" stroke-linejoin="round" />
<text transform="translate(397,602) skewY(38) scale(0.9,1)" font-size="31" text-anchor="start" stroke="#000" stroke-width="1.1">M6</text>
<polygon points="254.2,655.4 313.1,701.3 297.8,720.1 271.9,748.3 234.2,793.1 170.7,859.0 128.3,823.7 182.4,748.3 215.4,703.6 222.4,696.6 238.9,675.4" fill="#fff" stroke="#000" stroke-width="3.8" stroke-linejoin="round" />
<polyline points="238.9,675.4 297.8,720.1" fill="none" stroke="#000" stroke-width="3.5" stroke-linejoin="round" />
<polyline points="222.4,696.6 276.6,741.3" fill="none" stroke="#000" stroke-width="3.5" stroke-linejoin="round" />
<polyline points="216.6,703.6 273.1,747.2" fill="none" stroke="#000" stroke-width="3.5" stroke-linejoin="round" />
<polyline points="184.8,750.7 234.2,791.9" fill="none" stroke="#000" stroke-width="3.5" stroke-linejoin="round" />
<polyline points="128.3,704.8 128.3,750.7 206.0,750.7" fill="none" stroke="#000" stroke-width="3.7" stroke-linejoin="round" />
<ellipse cx="125.9" cy="680.0" rx="32.4" ry="25.3" fill="#fff" stroke="#000" stroke-width="4.5"/>
<text transform="translate(125.9,694.5) scale(0.69,1)" font-size="39" text-anchor="middle" stroke="#000" stroke-width="0.9">130</text>
<rect x="134.7" y="933.4" width="40.6" height="18.9" rx="0" fill="none" stroke="#000" stroke-width="4"/>
<rect x="175.3" y="929.1" width="120.4" height="27.6" rx="3" fill="none" stroke="#000" stroke-width="4.5"/>
<rect x="295.6" y="933.4" width="75.4" height="17.4" rx="0" fill="none" stroke="#000" stroke-width="4"/>
<rect x="371.0" y="923.3" width="13.1" height="36.3" rx="4" fill="none" stroke="#000" stroke-width="4.5"/>
<rect x="384.1" y="927.6" width="45.0" height="26.1" rx="3" fill="none" stroke="#000" stroke-width="4.5"/>
<polyline points="384.1,940.7 417.4,940.7" fill="none" stroke="#000" stroke-width="4" stroke-linejoin="round" />
<polyline points="400.0,929.1 400.0,952.3" fill="none" stroke="#000" stroke-width="3.5" stroke-linejoin="round" />
<polyline points="420.3,932.0 420.3,950.8" fill="none" stroke="#000" stroke-width="3.7" stroke-linejoin="round" />
<rect x="429.0" y="932.0" width="166.8" height="17.4" rx="0" fill="none" stroke="#000" stroke-width="4"/>
<polyline points="566.8,941.2 594.3,941.2" fill="none" stroke="#000" stroke-width="3.7" stroke-linejoin="round" />
<circle cx="326.1" cy="947.9" r="4"/>
<polyline points="318.2,869.6 318.2,885.6 268.9,885.6 268.9,942.1" fill="none" stroke="#000" stroke-width="3.7" stroke-linejoin="round" />
<polyline points="422.6,869.6 422.6,898.6 326.1,898.6 326.1,956.6" fill="none" stroke="#000" stroke-width="3.7" stroke-linejoin="round" />
<polyline points="632.0,868.2 632.0,940.7 594.3,940.7" fill="none" stroke="#000" stroke-width="3.7" stroke-linejoin="round" />
<ellipse cx="318.2" cy="843.5" rx="32.6" ry="25.4" fill="#fff" stroke="#000" stroke-width="4.5"/>
<text transform="translate(318.2,858.0) scale(0.69,1)" font-size="39" text-anchor="middle" stroke="#000" stroke-width="0.9">152</text>
<ellipse cx="422.6" cy="843.5" rx="32.6" ry="25.4" fill="#fff" stroke="#000" stroke-width="4.5"/>
<text transform="translate(422.6,858.0) scale(0.69,1)" font-size="39" text-anchor="middle" stroke="#000" stroke-width="0.9">153</text>
<ellipse cx="630.6" cy="842.0" rx="31.9" ry="24.6" fill="#fff" stroke="#000" stroke-width="4.5"/>
<text transform="translate(630.6,856.5) scale(0.69,1)" font-size="39" text-anchor="middle" stroke="#000" stroke-width="0.9">150</text>
<polyline points="214.5,1044.0 243.0,1044.0" fill="none" stroke="#000" stroke-width="3.7" stroke-linejoin="round" />
<rect x="241.5" y="1024.5" width="13.5" height="34.5" rx="5" fill="none" stroke="#000" stroke-width="4.5"/>
<rect x="255.0" y="1029.0" width="48.0" height="25.5" rx="0" fill="none" stroke="#000" stroke-width="4.5"/>
<rect x="303.0" y="1032.0" width="31.5" height="21.0" rx="0" fill="none" stroke="#000" stroke-width="4.5"/>
<rect x="334.5" y="1032.0" width="139.5" height="19.5" rx="0" fill="none" stroke="#000" stroke-width="4.5"/>
<line x1="336.0" y1="1033.5" x2="360.0" y2="1050" stroke="#000" stroke-width="4"/>
<line x1="356.5" y1="1033.5" x2="380.5" y2="1050" stroke="#000" stroke-width="4"/>
<line x1="377.0" y1="1033.5" x2="401.0" y2="1050" stroke="#000" stroke-width="4"/>
<line x1="397.5" y1="1033.5" x2="421.5" y2="1050" stroke="#000" stroke-width="4"/>
<line x1="418.0" y1="1033.5" x2="442.0" y2="1050" stroke="#000" stroke-width="4"/>
<line x1="438.5" y1="1033.5" x2="462.5" y2="1050" stroke="#000" stroke-width="4"/>
<rect x="96.5" y="1157" width="47.5" height="51.5" rx="6" fill="#fff" stroke="#000" stroke-width="5.5"/>
<rect x="99" y="1166" width="42" height="7" fill="#000"/>
<rect x="99" y="1195" width="42" height="6.5" fill="#000"/>
<ellipse cx="119" cy="1184" rx="17" ry="8" fill="#fff" stroke="#000" stroke-width="3.5"/>
<polyline points="117.0,1210.5 117.0,1306.5" fill="none" stroke="#000" stroke-width="3.7" stroke-linejoin="round" />
<ellipse cx="117.0" cy="1330.5" rx="27.0" ry="24.0" fill="#fff" stroke="#000" stroke-width="4.5"/>
<text transform="translate(117.0,1345.0) scale(0.8,1)" font-size="39" text-anchor="middle" stroke="#000" stroke-width="0.9">64</text>
<rect x="168" y="1163" width="32" height="40" fill="#fff" stroke="#000" stroke-width="5"/>
<rect x="168" y="1163" width="9" height="40" fill="#000"/>
<rect x="201" y="1137" width="20" height="73" rx="5" fill="#fff" stroke="#000" stroke-width="4.5"/>
<rect x="205" y="1158" width="16" height="48" fill="#000"/>
<rect x="207" y="1140" width="4" height="12" fill="#000"/>
<rect x="221" y="1137" width="20" height="76" fill="#fff" stroke="#000" stroke-width="4.5"/>
<line x1="221" y1="1161" x2="241" y2="1161" stroke="#000" stroke-width="4"/>
<line x1="221" y1="1184" x2="241" y2="1184" stroke="#000" stroke-width="7"/>
<line x1="221" y1="1207" x2="241" y2="1207" stroke="#000" stroke-width="3.5"/>
<polyline points="220.5,1212.0 220.5,1270.5 238.5,1270.5 238.5,1305.0" fill="none" stroke="#000" stroke-width="3.7" stroke-linejoin="round" />
<ellipse cx="238.5" cy="1330.5" rx="27.0" ry="25.0" fill="#fff" stroke="#000" stroke-width="4.5"/>
<text transform="translate(238.5,1345.0) scale(0.8,1)" font-size="39" text-anchor="middle" stroke="#000" stroke-width="0.9">65</text>
<rect x="267.0" y="1125.0" width="118.5" height="112.5" rx="0" fill="none" stroke="#000" stroke-width="5"/>
<rect x="243" y="1124" width="12" height="114" rx="5" fill="#fff" stroke="#000" stroke-width="4.5"/>
<rect x="252" y="1117" width="16" height="128" rx="5" fill="#fff" stroke="#000" stroke-width="5"/>
<ellipse cx="260" cy="1181" rx="3.5" ry="58" fill="none" stroke="#000" stroke-width="3"/>
<polyline points="379.5,1131.0 379.5,1233.0" fill="none" stroke="#000" stroke-width="3.7" stroke-linejoin="round" />
<circle cx="357.0" cy="1209.0" r="3.5"/>
<polyline points="356.4,1209.0 356.4,1305.0" fill="none" stroke="#000" stroke-width="3.7" stroke-linejoin="round" />
<ellipse cx="355.5" cy="1329.0" rx="27.0" ry="25.0" fill="#fff" stroke="#000" stroke-width="4.5"/>
<text transform="translate(355.5,1343.5) scale(0.8,1)" font-size="39" text-anchor="middle" stroke="#000" stroke-width="0.9">63</text>
<rect x="385.5" y="1168.5" width="142.5" height="15.0" rx="0" fill="#000" stroke="#000" stroke-width="4"/>
<line x1="390.0" y1="1171.5" x2="394.2" y2="1180.5" stroke="#fff" stroke-width="1.2"/>
<line x1="401.4" y1="1171.5" x2="405.6" y2="1180.5" stroke="#fff" stroke-width="1.2"/>
<line x1="412.8" y1="1171.5" x2="417.0" y2="1180.5" stroke="#fff" stroke-width="1.2"/>
<line x1="424.2" y1="1171.5" x2="428.4" y2="1180.5" stroke="#fff" stroke-width="1.2"/>
<line x1="435.6" y1="1171.5" x2="439.8" y2="1180.5" stroke="#fff" stroke-width="1.2"/>
<line x1="447.0" y1="1171.5" x2="451.2" y2="1180.5" stroke="#fff" stroke-width="1.2"/>
<line x1="458.4" y1="1171.5" x2="462.6" y2="1180.5" stroke="#fff" stroke-width="1.2"/>
<line x1="469.8" y1="1171.5" x2="474.0" y2="1180.5" stroke="#fff" stroke-width="1.2"/>
<line x1="481.2" y1="1171.5" x2="485.4" y2="1180.5" stroke="#fff" stroke-width="1.2"/>
<line x1="492.6" y1="1171.5" x2="496.8" y2="1180.5" stroke="#fff" stroke-width="1.2"/>
<line x1="504.1" y1="1171.5" x2="508.3" y2="1180.5" stroke="#fff" stroke-width="1.2"/>
<line x1="515.5" y1="1171.5" x2="519.7" y2="1180.5" stroke="#fff" stroke-width="1.2"/>
<rect x="385.5" y="1201.5" width="142.5" height="13.5" rx="0" fill="#000" stroke="#000" stroke-width="4"/>
<line x1="390.0" y1="1204.5" x2="394.2" y2="1212.0" stroke="#fff" stroke-width="1.2"/>
<line x1="401.4" y1="1204.5" x2="405.6" y2="1212.0" stroke="#fff" stroke-width="1.2"/>
<line x1="412.8" y1="1204.5" x2="417.0" y2="1212.0" stroke="#fff" stroke-width="1.2"/>
<line x1="424.2" y1="1204.5" x2="428.4" y2="1212.0" stroke="#fff" stroke-width="1.2"/>
<line x1="435.6" y1="1204.5" x2="439.8" y2="1212.0" stroke="#fff" stroke-width="1.2"/>
<line x1="447.0" y1="1204.5" x2="451.2" y2="1212.0" stroke="#fff" stroke-width="1.2"/>
<line x1="458.4" y1="1204.5" x2="462.6" y2="1212.0" stroke="#fff" stroke-width="1.2"/>
<line x1="469.8" y1="1204.5" x2="474.0" y2="1212.0" stroke="#fff" stroke-width="1.2"/>
<line x1="481.2" y1="1204.5" x2="485.4" y2="1212.0" stroke="#fff" stroke-width="1.2"/>
<line x1="492.6" y1="1204.5" x2="496.8" y2="1212.0" stroke="#fff" stroke-width="1.2"/>
<line x1="504.1" y1="1204.5" x2="508.3" y2="1212.0" stroke="#fff" stroke-width="1.2"/>
<line x1="515.5" y1="1204.5" x2="519.7" y2="1212.0" stroke="#fff" stroke-width="1.2"/>
<rect x="528.1" y="1164.0" width="36.0" height="24.0" rx="6" fill="none" stroke="#000" stroke-width="5"/>
<rect x="528.1" y="1198.5" width="36.0" height="21.0" rx="6" fill="none" stroke="#000" stroke-width="5"/>
<polyline points="548.5,1077.0 548.5,1210.5" fill="none" stroke="#000" stroke-width="3.7" stroke-linejoin="round" />
<ellipse cx="547.5" cy="1051.5" rx="28.5" ry="26.0" fill="#fff" stroke="#000" stroke-width="4.5"/>
<text transform="translate(547.5,1066.0) scale(0.8,1)" font-size="39" text-anchor="middle" stroke="#000" stroke-width="0.9">66</text>
<rect x="603.5" y="1096.3" width="50" height="165" fill="#fff" stroke="#000" stroke-width="5"/>
<rect x="652.4" y="1076.5" width="86.6" height="204.7" rx="7" fill="#000"/>
<rect x="661.3" y="1083.3" width="71.2" height="5.8" rx="2.5" fill="#fff"/>
<rect x="661.3" y="1091.4" width="71.2" height="4.8" rx="2.5" fill="#fff"/>
<rect x="661.3" y="1101.6" width="71.2" height="14.5" rx="2.5" fill="#fff"/>
<rect x="661.3" y="1122.6" width="71.2" height="13.7" rx="2.5" fill="#fff"/>
<rect x="661.3" y="1142.8" width="71.2" height="19.4" rx="2.5" fill="#fff"/>
<rect x="661.3" y="1169.5" width="71.2" height="21.1" rx="2.5" fill="#fff"/>
<rect x="661.3" y="1197" width="71.2" height="21.1" rx="2.5" fill="#fff"/>
<rect x="661.3" y="1223.7" width="71.2" height="13.8" rx="2.5" fill="#fff"/>
<rect x="661.3" y="1244.8" width="71.2" height="15.3" rx="2.5" fill="#fff"/>
<rect x="661.3" y="1263.4" width="71.2" height="4.8" rx="2.5" fill="#fff"/>
<rect x="710.7" y="1165.5" width="25.1" height="29.1" rx="9" fill="#fff" stroke="#000" stroke-width="3.5"/>
<polyline points="695.5,1020.0 697.0,1102.5" fill="none" stroke="#000" stroke-width="3.7" stroke-linejoin="round" />
<ellipse cx="695.5" cy="995.6" rx="23.4" ry="25.3" fill="#fff" stroke="#000" stroke-width="4.5"/>
<text transform="translate(695.5,1010.1) scale(0.69,1)" font-size="39" text-anchor="middle" stroke="#000" stroke-width="0.9">61</text>
<rect x="816.2" y="1035.0" width="30.0" height="13.1" rx="4" fill="none" stroke="#000" stroke-width="4"/>
<polyline points="830.5,1035.0 830.5,1048.1" fill="none" stroke="#000" stroke-width="3.7" stroke-linejoin="round" />
<rect x="823.0" y="1048.1" width="16.5" height="22.5" rx="0" fill="none" stroke="#000" stroke-width="4"/>
<rect x="766" y="1107" width="88" height="149" rx="4" fill="#fff" stroke="#000" stroke-width="6"/>
<path d="M 854 1098.8 L 1265 1098.4 L 1293 1112.4 L 1297.2 1129.2 L 1297.2 1235.6 L 1265 1259.5 L 854 1261 Z" fill="#fff" stroke="#000" stroke-width="5" stroke-linejoin="round"/>
<path d="M 856 1103 C 860 1130 866 1170 864 1190 C 862 1220 858 1245 857 1258" fill="none" stroke="#000" stroke-width="3.5"/>
<rect x="881.8" y="1115.2" width="144.2" height="49" rx="9" fill="#fff" stroke="#000" stroke-width="5"/>
<path d="M 883.3 1102.6 L 881.8 1115.2 M 1020 1102.6 L 1026 1120.8" fill="none" stroke="#000" stroke-width="3.5"/>
<rect x="881.8" y="1196.4" width="144.2" height="50.4" rx="9" fill="#fff" stroke="#000" stroke-width="5"/>
<path d="M 881.8 1241 L 888.8 1258 M 1024.5 1244 L 1020 1258" fill="none" stroke="#000" stroke-width="3.5"/>
<rect x="1054.8" y="1115.2" width="144.2" height="49" rx="9" fill="#fff" stroke="#000" stroke-width="5"/>
<path d="M 1056.3 1102.6 L 1054.8 1115.2 M 1193 1102.6 L 1199 1120.8" fill="none" stroke="#000" stroke-width="3.5"/>
<rect x="1054.8" y="1196.4" width="144.2" height="50.4" rx="9" fill="#fff" stroke="#000" stroke-width="5"/>
<path d="M 1054.8 1241 L 1061.8 1258 M 1197.5 1244 L 1193 1258" fill="none" stroke="#000" stroke-width="3.5"/>
<path d="M 1026 1170 L 1040 1161.5 L 1050 1165 L 1050 1183 L 1056.4 1187 L 1047 1197.8 L 1040 1190 L 1027 1193 Z" fill="#000"/>
<rect x="1225.8" y="1098.4" width="39.2" height="162.4" fill="#000"/>
<rect x="1232" y="1105.5" width="25" height="3.6" fill="#fff"/>
<rect x="1232" y="1117.3" width="25" height="3.6" fill="#fff"/>
<rect x="1232" y="1129.1" width="25" height="3.6" fill="#fff"/>
<rect x="1232" y="1140.9" width="25" height="3.6" fill="#fff"/>
<rect x="1232" y="1152.7" width="25" height="3.6" fill="#fff"/>
<rect x="1232" y="1164.5" width="25" height="3.6" fill="#fff"/>
<rect x="1232" y="1176.3" width="25" height="3.6" fill="#fff"/>
<rect x="1232" y="1188.1" width="25" height="3.6" fill="#fff"/>
<rect x="1232" y="1199.9" width="25" height="3.6" fill="#fff"/>
<rect x="1232" y="1211.7" width="25" height="3.6" fill="#fff"/>
<rect x="1232" y="1223.5" width="25" height="3.6" fill="#fff"/>
<rect x="1232" y="1235.3" width="25" height="3.6" fill="#fff"/>
<rect x="1232" y="1247.1" width="25" height="3.6" fill="#fff"/>
<polyline points="1170.6,1020.0 1170.6,1115.6" fill="none" stroke="#000" stroke-width="3.7" stroke-linejoin="round" />
<ellipse cx="1169.5" cy="993.0" rx="27.2" ry="27.0" fill="#fff" stroke="#000" stroke-width="4.5"/>
<text transform="translate(1169.5,1007.5) scale(0.8,1)" font-size="39" text-anchor="middle" stroke="#000" stroke-width="0.9">60</text>
<rect x="1353.5" y="1110.9" width="45.2" height="132.3" rx="3" fill="none" stroke="#000" stroke-width="4.5"/>
<polygon points="1398.7,1124.0 1435.5,1124.0 1636.5,1133.0 1636.5,1214.0 1435.5,1228.0 1398.7,1228.0" fill="none" stroke="#000" stroke-width="4.5" stroke-linejoin="round" />
<polyline points="1435.5,1123.6 1435.5,1227.4" fill="none" stroke="#000" stroke-width="4.5" stroke-linejoin="round" />
<rect x="1624.5" y="1133" width="14" height="86" rx="6" fill="#fff" stroke="#000" stroke-width="4"/>
<polyline points="1448.9,1018.7 1448.9,1141.0" fill="none" stroke="#000" stroke-width="3.7" stroke-linejoin="round" />
<circle cx="1448.9" cy="1141.0" r="3"/>
<ellipse cx="1447.9" cy="991.9" rx="27.6" ry="26.8" fill="#fff" stroke="#000" stroke-width="4.5"/>
<text transform="translate(1447.9,1006.4) scale(0.8,1)" font-size="39" text-anchor="middle" stroke="#000" stroke-width="0.9">30</text>
<polyline points="1428.8,955.1 1438.9,955.1" fill="none" stroke="#000" stroke-width="2" stroke-linejoin="round" />
<text transform="translate(1721.6,1177.9) rotate(-90) scale(0.74,1)" font-size="37" text-anchor="middle" stroke="#000" stroke-width="1.2">M10x1</text>
<polyline points="1727.0,1131.0 1727.0,1218.1" fill="none" stroke="#000" stroke-width="3.7" stroke-linejoin="round" />
<polyline points="1727.0,1176.2 1755.5,1176.2" fill="none" stroke="#000" stroke-width="3.7" stroke-linejoin="round" />
<rect x="1750.4" y="1154.4" width="33.5" height="43.6" rx="5" fill="none" stroke="#000" stroke-width="4"/>
<polyline points="1758.8,1176.2 1765.5,1176.2" fill="none" stroke="#000" stroke-width="3.7" stroke-linejoin="round" />
<rect x="1782.3" y="1137.7" width="25.1" height="70.4" rx="6" fill="none" stroke="#000" stroke-width="4.5"/>
<polyline points="1782.9,1154.4 1806.7,1154.4" fill="none" stroke="#000" stroke-width="4" stroke-linejoin="round" />
<polyline points="1782.9,1196.3 1806.7,1196.3" fill="none" stroke="#000" stroke-width="4" stroke-linejoin="round" />
<rect x="1814.1" y="1144.4" width="83.8" height="63.7" rx="6" fill="none" stroke="#000" stroke-width="5"/>
<rect x="1820.8" y="1149.4" width="16.8" height="10.1" rx="3" fill="none" stroke="#000" stroke-width="4"/>
<rect x="1820.8" y="1171.2" width="16.8" height="13.4" rx="3" fill="none" stroke="#000" stroke-width="4"/>
<rect x="1820.8" y="1192.9" width="16.8" height="11.7" rx="3" fill="none" stroke="#000" stroke-width="4"/>
<rect x="1845.9" y="1149.4" width="18.4" height="10.1" rx="3" fill="none" stroke="#000" stroke-width="4"/>
<rect x="1845.9" y="1171.2" width="18.4" height="13.4" rx="3" fill="none" stroke="#000" stroke-width="4"/>
<rect x="1845.9" y="1192.9" width="18.4" height="11.7" rx="3" fill="none" stroke="#000" stroke-width="4"/>
<rect x="1872.7" y="1149.4" width="18.4" height="10.1" rx="3" fill="none" stroke="#000" stroke-width="4"/>
<rect x="1872.7" y="1171.2" width="18.4" height="13.4" rx="3" fill="none" stroke="#000" stroke-width="4"/>
<rect x="1872.7" y="1192.9" width="18.4" height="11.7" rx="3" fill="none" stroke="#000" stroke-width="4"/>
<path d="M 1699.0,1030.4 L 1753.6,1030.4 C 1770.0,1031.0 1782.0,1036.0 1792.0,1041.6 C 1830.0,1070.0 1870.0,1110.0 1904.0,1140.0" fill="none" stroke="#000" stroke-width="10" stroke-linejoin="round" stroke-linecap="round"/>
<path d="M 1699 1030.4 L 1753.6 1030.4 C 1770 1031 1782 1036 1792 1041.6 C 1830 1070 1870 1110 1904 1140" fill="none" stroke="#fff" stroke-width="2.2" stroke-dasharray="2 4"/>
<path d="M 1699.0,1074.4 L 1769.6,1074.4 C 1780.0,1075.0 1788.0,1078.0 1795.2,1081.6 C 1830.0,1100.0 1870.0,1120.0 1900.0,1142.0" fill="none" stroke="#000" stroke-width="10" stroke-linejoin="round" stroke-linecap="round"/>
<path d="M 1699 1074.4 L 1769.6 1074.4 C 1780 1075 1788 1078 1795.2 1081.6 C 1830 1100 1870 1120 1900 1142" fill="none" stroke="#fff" stroke-width="2.2" stroke-dasharray="2 4"/>
<rect x="1614.4" y="1020.8" width="44" height="19.200000000000045" rx="9" fill="#fff" stroke="#000" stroke-width="4.5"/>
<rect x="1654.4" y="1016.8" width="44.8" height="27.200000000000045" rx="3" fill="#fff" stroke="#000" stroke-width="5"/>
<line x1="1661" y1="1017.8" x2="1661" y2="1043" stroke="#000" stroke-width="4"/>
<line x1="1681" y1="1017.8" x2="1681" y2="1043" stroke="#000" stroke-width="5"/>
<line x1="1694" y1="1017.8" x2="1694" y2="1043" stroke="#000" stroke-width="4"/>
<rect x="1614.4" y="1064" width="44" height="19.200000000000045" rx="9" fill="#fff" stroke="#000" stroke-width="4.5"/>
<rect x="1654.4" y="1060" width="44.8" height="27.200000000000045" rx="3" fill="#fff" stroke="#000" stroke-width="5"/>
<line x1="1661" y1="1061" x2="1661" y2="1086.2" stroke="#000" stroke-width="4"/>
<line x1="1681" y1="1061" x2="1681" y2="1086.2" stroke="#000" stroke-width="5"/>
<line x1="1694" y1="1061" x2="1694" y2="1086.2" stroke="#000" stroke-width="4"/>
</svg></body></html>
